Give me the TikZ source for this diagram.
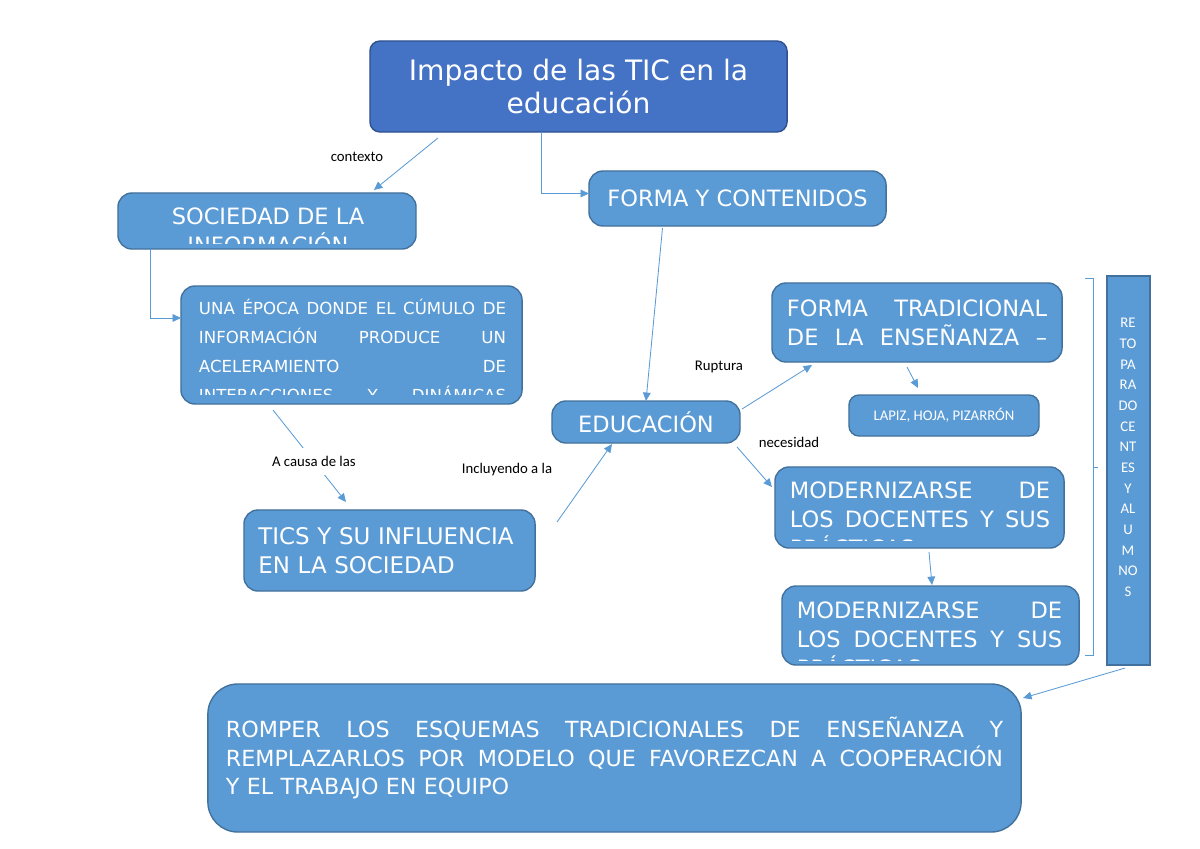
\documentclass[tikz,border=0pt]{standalone}
\usepackage{fontspec}
\setmainfont{DejaVu Sans}
\newfontfamily\labelfont{Carlito}
\usetikzlibrary{arrows.meta,calc}
\definecolor{boxfill}{HTML}{5B9BD5}
\definecolor{boxline}{HTML}{41719C}
\definecolor{titlefill}{HTML}{4472C4}
\definecolor{titleline}{HTML}{2F528F}

\begin{document}
\begin{tikzpicture}[
  x=0.025cm, y=-0.025cm,
  mapbox/.style={draw=boxline, fill=boxfill, line width=1pt, rounded corners=0.35cm, inner sep=0pt, outer sep=0pt},
  titlebox/.style={mapbox, draw=titleline, fill=titlefill, rounded corners=0.25cm},
  boxtext/.style={text=white, inner sep=0pt, font=\fontsize{16}{20.6}\selectfont},
  linklabel/.style={font=\labelfont\fontsize{10.5}{12}\selectfont, inner sep=1pt},
  link/.style={draw=boxfill, line width=0.6pt, -{Triangle[length=6pt,width=5.5pt]}}
]
\useasboundingbox (0,0) rectangle (1200,848);

% boxes
\node[titlebox, minimum width=10.425cm, minimum height=2.275cm, text=white, align=center, font=\fontsize{20}{24}\selectfont] (title) at (578.5,86.5) {Impacto de las TIC en la\\educación};

\node[mapbox, minimum width=7.45cm, minimum height=1.4cm] (soc) at (267,221) {};
\begin{scope}
  \clip (118,193) rectangle (416,243);
  \node[boxtext, align=center] (soctext) at (268,230.5) {SOCIEDAD DE LA\\INFORMACIÓN};
\end{scope}

\node[mapbox, boxtext, minimum width=7.425cm, minimum height=1.375cm] (forma) at (737.5,198.5) {FORMA Y CONTENIDOS};

\node[mapbox, minimum width=8.525cm, minimum height=2.95cm] (epoca) at (351.5,345) {};
\begin{scope}
  \clip (181,286) rectangle (522,394);
  \node[boxtext, font=\fontsize{11.8}{20.6}\selectfont, text width=7.675cm, align=left] (epocatext) at (352.5,350.5) {UNA\hfill ÉPOCA\hfill DONDE\hfill EL\hfill CÚMULO\hfill DE\\INFORMACIÓN\hfill PRODUCE\hfill UN\\ACELERAMIENTO\hfill DE\\INTERACCIONES\hfill Y\hfill DINÁMICAS};
\end{scope}

\node[mapbox, boxtext, minimum width=4.7cm, minimum height=1.05cm] (edu) at (646,422) {EDUCACIÓN};

\node[mapbox, boxtext, font=\fontsize{16.3}{20.6}\selectfont, minimum width=7.275cm, minimum height=2.025cm, text width=6.55cm, align=left] (tics) at (389.5,550.5) {TICS Y SU INFLUENCIA\\EN LA SOCIEDAD};

\node[mapbox, boxtext, minimum width=7.25cm, minimum height=1.975cm, text width=6.5cm, align=left] (trad) at (917,322.5) {FORMA\hfill TRADICIONAL\\DE\hfill LA\hfill ENSEÑANZA\hfill –};

\node[mapbox, rounded corners=0.25cm, minimum width=4.75cm, minimum height=1.025cm, text=white, font=\labelfont\fontsize{10.5}{12}\selectfont] (lapiz) at (944,415.5) {LAPIZ, HOJA, PIZARRÓN};

\node[mapbox, minimum width=7.225cm, minimum height=2.025cm] (mod1) at (919.5,507.5) {};
\begin{scope}
  \clip (775,467) rectangle (1064,540);
  \node[boxtext, text width=6.5cm, align=left] (mod1text) at (920,519) {MODERNIZARSE\hfill DE\\LOS\hfill DOCENTES\hfill Y\hfill SUS\\PRÁCTICAS};
\end{scope}

\node[mapbox, minimum width=7.425cm, minimum height=1.975cm] (mod2) at (930.5,625.5) {};
\begin{scope}
  \clip (782,586) rectangle (1079,660);
  \node[boxtext, text width=6.625cm, align=left] (mod2text) at (929.5,639) {MODERNIZARSE\hfill DE\\LOS\hfill DOCENTES\hfill Y\hfill SUS\\PRÁCTICAS};
\end{scope}

\node[mapbox, rounded corners=0pt, minimum width=1.075cm, minimum height=9.725cm] (reto) at (1128.5,470.5) {};
\node[text=white, align=center, inner sep=0pt, font=\labelfont\fontsize{10.5}{14.7}\selectfont] (retotext) at (1128,457.5) {RE\\TO\\PA\\RA\\DO\\CE\\NT\\ES\\Y\\AL\\U\\M\\NO\\S};

\node[mapbox, boxtext, rounded corners=0.75cm, font=\fontsize{15.8}{20.3}\selectfont, minimum width=20.325cm, minimum height=3.7cm, text width=19.425cm, align=left] (romper) at (614.5,758) {ROMPER\hfill LOS\hfill ESQUEMAS\hfill TRADICIONALES\hfill DE\hfill ENSEÑANZA\hfill Y\\REMPLAZARLOS\hfill POR\hfill MODELO\hfill QUE\hfill FAVOREZCAN\hfill A\hfill COOPERACIÓN\\Y EL TRABAJO EN EQUIPO};

% labels
\node[linklabel] (lcontexto) at (357,157) {contexto};
\node[linklabel] (lincluyendo) at (507,470) {Incluyendo a la};
\node[linklabel] (lruptura) at (719,367) {Ruptura};
\node[linklabel] (lnecesidad) at (789,442) {necesidad};

% connectors
\draw[link] ($(title.south west)+(68,6)$) -- ($(soc.north west)+(256,-3)$);
\draw[link] ($(title.south west)+(171,0)$) |- ($(forma.west)+(0,-5)$);
\draw[link] ($(soc.south west)+(32,0)$) |- ($(epoca.north west)+(0,32)$);
\draw[link] ($(forma.south)+(-75,2)$) -- (edu.north);
\draw[link] ($(epoca.south)+(-78.5,6)$) -- node[linklabel, fill=white, inner ysep=6pt, pos=0.56] (lcausa) {A causa de las} ($(tics.north)+(-43.5,-8)$);
\draw[link] ($(tics.north east)+(22,12)$) -- ($(edu.south)+(-34,1)$);
\draw[link] ($(edu.north east)+(2,8)$) -- ($(trad.south west)+(40,3)$);
\draw[link] ($(edu.south east)+(-3,4)$) -- ($(mod1.north west)+(-3,20)$);
\draw[link] ($(trad.south)+(-10,5)$) -- ($(lapiz.north)+(-26,-7)$);
\draw[link] ($(mod1.south)+(9.5,4)$) -- ($(mod2.north)+(1.5,-1)$);
\draw[link] ($(reto.south)+(-3.5,3)$) -- ($(romper.north east)+(2,14)$);

% bracket beside the column
\draw[boxfill, line width=0.6pt] (1085,278) -- (1093,278) -- (1093,655) -- (1085,655) (1093,467) -- (1098,467);
\end{tikzpicture}
\end{document}
